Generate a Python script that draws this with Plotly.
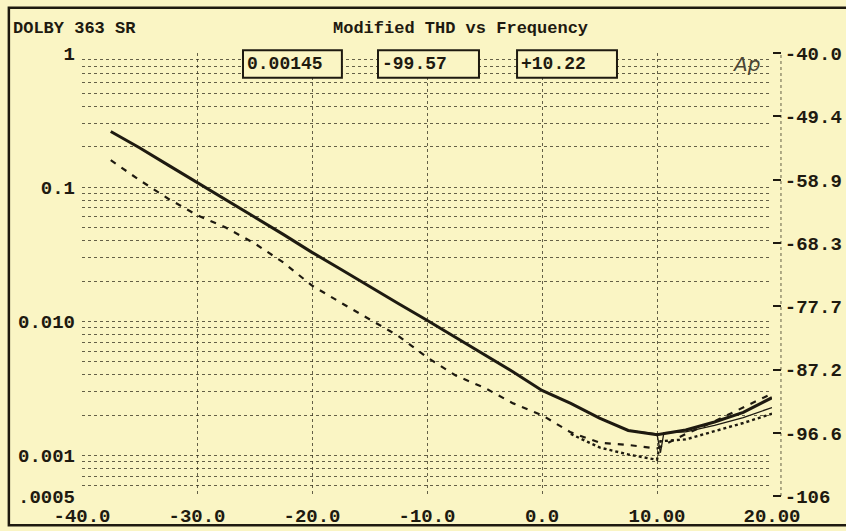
import plotly.graph_objects as go

# level sweep, -40 .. +20 (x), THD+N ratio on log left axis, dB on right axis
x = [-37.5, -35, -32.5, -30, -27.5, -25, -22.5, -20, -17.5, -15, -12.5, -10,
     -7.5, -5, -2.5, 0, 2.5, 5, 7.5, 10, 12.5, 15, 17.5, 20]

thd_solid = [0.26, 0.197, 0.146, 0.109, 0.081, 0.060, 0.0445, 0.0327, 0.0245, 0.0182,
             0.0136, 0.0102, 0.0076, 0.0056, 0.0042, 0.00306, 0.00245, 0.0019, 0.00154,
             0.00143, 0.00155, 0.00178, 0.0021, 0.0027]

thd_dashed = [0.159, 0.113, 0.082, 0.062, 0.050, 0.0382, 0.0275, 0.0185, 0.0138, 0.0104,
              0.0078, 0.0054, 0.00395, 0.0032, 0.00245, 0.0020, 0.00149, 0.00125, 0.0012,
              0.00113, 0.00145, 0.0018, 0.0023, 0.0029]

x_thin = [5, 7.5, 10, 10.3, 10.6, 12.5, 15, 17.5, 20]
thd_thin = [0.0019, 0.00154, 0.00145, 0.00105, 0.00148, 0.00150, 0.00168, 0.00192, 0.00228]

x_dot = [2.5, 5, 7.5, 10, 10.3, 12.5, 15, 17.5, 20]
thd_dot = [0.00145, 0.00115, 0.00102, 0.00093, 0.00128, 0.00132, 0.00152, 0.00175, 0.00205]

x_ticks = [-40, -30, -20, -10, 0, 10, 20]
x_labels = ["-40.0", "-30.0", "-20.0", "-10.0", "0.0", "10.00", "20.00"]
y_ticks = [1, 0.1, 0.01, 0.001, 0.0005]
y_labels = ["1", "0.1", "0.010", "0.001", ".0005"]
db_ticks = [-40.0, -49.4, -58.9, -68.3, -77.7, -87.2, -96.6, -106]
db_labels = ["-40.0", "-49.4", "-58.9", "-68.3", "-77.7", "-87.2", "-96.6", "-106"]

readouts = ["0.00145", "-99.57", "+10.22"]
readout_x = [(-26.0, -17.4), (-14.26, -5.48), (-2.17, 6.52)]

bg = "#faf5c4"
ink = "#1e1a10"
grid = "rgba(50,45,30,0.75)"

minor_vals = [m * 10.0 ** d for d in range(-4, 0) for m in range(2, 10)]

fig = go.Figure()
fig.add_trace(go.Scatter(x=x, y=thd_solid, mode="lines",
                         line=dict(color=ink, width=3)))
fig.add_trace(go.Scatter(x=x_thin, y=thd_thin, mode="lines",
                         line=dict(color=ink, width=1.3)))
fig.add_trace(go.Scatter(x=x, y=thd_dashed, mode="lines",
                         line=dict(color=ink, width=2.2, dash="6px,7px")))
fig.add_trace(go.Scatter(x=x_dot, y=thd_dot, mode="lines",
                         line=dict(color=ink, width=2.4, dash="dot")))
# invisible trace so the dB axis gets drawn
fig.add_trace(go.Scatter(x=[-40, 20], y=[-106, -40], yaxis="y2", mode="lines",
                         line=dict(width=0), hoverinfo="skip"))

for (x0, x1), txt in zip(readout_x, readouts):
    fig.add_shape(type="rect", xref="x", yref="paper", x0=x0, x1=x1, y0=0.944, y1=1.006,
                  fillcolor=bg, line=dict(color=ink, width=2), layer="above")
    fig.add_annotation(x=x0 + 0.2, y=0.975, xref="x", yref="paper", text=txt,
                       showarrow=False, xanchor="left", yanchor="middle",
                       font=dict(size=18, color=ink, family="Liberation Mono", weight="bold"))

fig.add_annotation(x=0.549, y=1.056, xref="paper", yref="paper", yanchor="middle",
                   text="Modified THD vs Frequency", showarrow=False,
                   font=dict(size=17, color=ink, family="Liberation Mono", weight="bold"))
fig.add_annotation(x=-0.103, y=1.056, xref="paper", yref="paper", xanchor="left",
                   yanchor="middle", text="DOLBY 363 SR", showarrow=False,
                   font=dict(size=17, color=ink, family="Liberation Mono", weight="bold"))
fig.add_annotation(x=17.7, y=0.975, xref="x", yref="paper", yanchor="middle",
                   text="Ap", showarrow=False,
                   font=dict(size=20, color="#4a4535", family="DejaVu Sans",
                             style="italic", weight="normal"))

# dotted line just right of the plot, behind the dB ticks
fig.add_shape(type="line", xref="paper", yref="paper", x0=1.013, x1=1.013, y0=0, y1=1,
              line=dict(color=grid, width=1, dash="dot"))

# scan border
fig.add_shape(type="rect", xref="paper", yref="paper", x0=-0.106, x1=1.2, y0=-0.066, y1=1.102,
              line=dict(color=ink, width=2.5), layer="below")

fig.update_layout(
    width=846, height=531,
    margin=dict(l=82, r=74, t=53, b=35),
    paper_bgcolor=bg, plot_bgcolor=bg,
    showlegend=False,
    font=dict(family="Liberation Mono", size=19, color=ink, weight="bold"),
    xaxis=dict(range=[-40, 20], tickvals=x_ticks, ticktext=x_labels, automargin=False,
               showgrid=True, gridcolor=grid, griddash="dot", gridwidth=1,
               zeroline=False, showline=False, ticks="", ticklabelstandoff=6),
    yaxis=dict(type="log", range=[-3.30103, 0], tickvals=y_ticks, ticktext=y_labels,
               automargin=False,
               showgrid=True, gridcolor=grid, griddash="dot", gridwidth=1,
               minor=dict(tickvals=minor_vals, showgrid=True, gridcolor=grid,
                          griddash="dot", gridwidth=1),
               zeroline=False, showline=False, ticks="", ticklabelstandoff=6),
    yaxis2=dict(overlaying="y", side="right", range=[-106, -40], automargin=False,
                tickvals=db_ticks, ticktext=db_labels, showgrid=False,
                zeroline=False, ticks="outside", ticklen=8, tickcolor=ink,
                tickwidth=1.5),
)

fig.write_html("out.html", config={"displayModeBar": False},
               post_script="document.body.style.margin = '0';")
